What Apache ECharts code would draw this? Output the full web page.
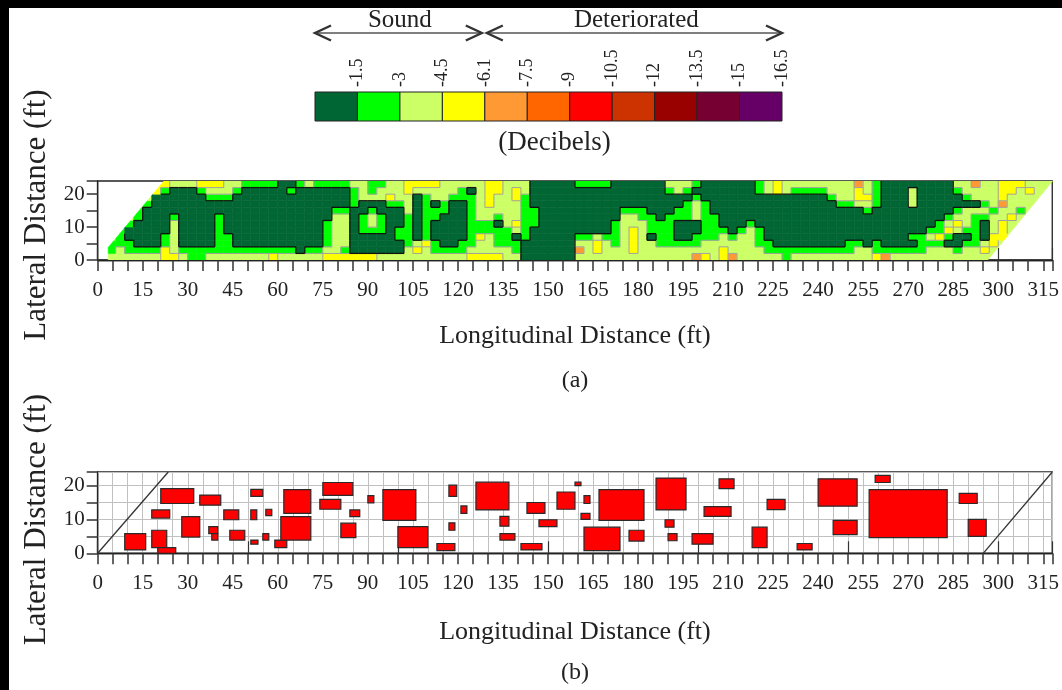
<!DOCTYPE html>
<html>
<head>
<meta charset="utf-8">
<title>Deck condition maps</title>
<script src="https://cdn.jsdelivr.net/npm/echarts@6/dist/echarts.min.js"></script>
<style>
  html, body { margin: 0; padding: 0; background: #fff; }
  #chart { width: 1062px; height: 690px; }
</style>
</head>
<body>
<div id="chart"></div>
<script>
const serif = "'Liberation Serif', 'DejaVu Serif', serif";

// decibel classes of the scale, sound -> deteriorated
const dbLabels = ['-1.5', '-3', '-4.5', '-6.1', '-7.5', '-9', '-10.5', '-12', '-13.5', '-15', '-16.5'];
const dbColors = ['#006633', '#00ff00', '#ccff66', '#ffff00', '#ff9933', '#ff6600',
  '#ff0000', '#cc3300', '#990000', '#770033', '#660066'];

// (a) class index (1 = -1.5 dB ...) per 3 ft x 2 ft cell, top row = 22-24 ft, bottom row = 0-2 ft
const cellW = 3, cellH = 2;
const dbRows = [
  '444444443334443322221123222' + '23322334444333334433311111' + '222211111133321111112343333' + '33335321111111133533444333',
  '444444421112333211111211111' + '12323334333332134434311111' + '111111111123211111112343222' + '23334321113111123333443433',
  '333333111111222111111111111' + '12333433123322234334211111' + '111111111111121111111111111' + '12334421113111112333433333',
  '333332111111111111111111111' + '12111223121211234333211111' + '111111111111232111111111111' + '11223321113111111123533333',
  '333321111111111111111111112' + '21121113122211233333221111' + '111112221112232111111111111' + '11111211111111123332332333',
  '333321112111121111111111113' + '31232112122111233233221111' + '111113322122232211111111111' + '11111111111111233223343333',
  '333211113111121111111111123' + '31232112121111222134221111' + '111123332221112211121111111' + '11111111111112343213433333',
  '332111113111121111111111123' + '31222122121111222223211111' + '111123432221112221232111111' + '11111111111122432213433333',
  '332111123111122111111111123' + '31111122121111243221211111' + '223223431221122232332111111' + '11111111112234211214433333',
  '322211123111122111111111123' + '31111112342112233222111111' + '334323433222223333332211111' + '11122121111222112234333333',
  '323222243222222222222212233' + '21111113432222333332111111' + '534333433333333343333222222' + '22223322222233323343333333',
  '333333344322333333343333344' + '44443333333333444433111111' + '333333333333354345333332333' + '33333345333333333333333333'
];

// (b) delaminated patches [x1, x2, y1, y2] in ft
const patches = [
  [9, 16, 1, 5.8], [18, 23, 1.7, 6.8], [20, 26, 0, 1.7], [18, 24, 10.4, 12.8],
  [21, 32, 14.7, 19.1], [28, 34, 4.8, 10.8], [34, 41, 14.2, 17.2], [37, 40, 5.8, 7.9],
  [38, 40, 3.9, 5.8], [42, 47, 9.9, 12.8], [44, 49, 3.9, 6.8], [51, 55, 16.8, 18.9],
  [51, 53, 9.9, 12.8], [51, 53.4, 2.7, 3.9], [55, 57, 3.9, 5.8], [56, 58, 11.1, 13],
  [59, 63, 1.7, 3.9], [61, 71, 3.9, 10.8], [62, 71, 11.8, 18.8], [75, 85, 17.1, 20.9],
  [74, 81, 13, 15.9], [81, 86, 4.6, 8.9], [84, 87.3, 10.8, 12.8], [90, 92, 14.9, 17],
  [95, 106, 9.7, 18.8], [100, 110, 1.7, 7.9], [113, 119, 0.8, 2.9], [117, 119.6, 16.8, 20.1],
  [121, 123, 11.8, 14], [117, 119, 6.8, 9], [126, 137, 12.8, 21], [134, 137, 8, 10.9],
  [134, 139, 3.9, 5.8], [141, 148, 1, 2.9], [143, 149, 11.8, 15], [147, 153, 7.9, 9.9],
  [153, 159, 13, 18.1], [159, 161, 20, 21], [162, 164, 14.7, 17], [161, 164, 10, 11.8],
  [162, 174, 0.8, 7.7], [167, 182, 9.7, 18.8], [177, 182, 3.6, 6.8], [186, 196, 12.8, 22.2],
  [189, 192, 7.7, 9.9], [190, 193, 3.7, 5.8], [198, 205, 2.7, 5.8], [202, 211, 10.9, 13.8],
  [207, 212, 19.1, 22], [218, 223, 1.7, 7.7], [223, 229, 12.9, 15.9], [233, 238, 1, 2.9],
  [240, 253, 13.9, 22], [245, 253, 5.5, 9.7], [259, 264, 20.9, 23], [257, 283, 4.6, 18.8],
  [287, 293, 14.7, 17.7], [290, 296, 5, 10]
];

// skewed deck ends drawn in (b)
const skewLeft = [[0, 0], [23.5, 24]];
const skewRight = [[295, 0], [318, 24]];

const xMax = 318, yMax = 24;

// deck outline of the scanned area in (a), each f(p) >= 0 inside
const deckEdges = [
  p => p[0] - 3.5,
  p => p[0] - 0.92 * p[1],
  p => 296.5 + 0.9 * p[1] - p[0]
];

function clipToDeck(poly) {
  deckEdges.forEach(f => {
    const out = [];
    for (let k = 0; k < poly.length; k++) {
      const a = poly[k], b = poly[(k + 1) % poly.length];
      const fa = f(a), fb = f(b);
      if (fa >= 0) out.push(a);
      if ((fa >= 0) !== (fb >= 0)) {
        const t = fa / (fa - fb);
        out.push([a[0] + t * (b[0] - a[0]), a[1] + t * (b[1] - a[1])]);
      }
    }
    poly = out;
  });
  return poly;
}
const inDeck = p => deckEdges.every(f => f(p) >= -1e-6);

const nRows = dbRows.length;
const codeAt = (i, j) => {
  const row = dbRows[nRows - 1 - j];
  return row && i < row.length ? +row[i] : null;
};

const cellData = [];
for (let j = 0; j < nRows; j++) {
  const row = dbRows[nRows - 1 - j];
  for (let i = 0; i < row.length; i++) cellData.push([i * cellW, j * cellH, +row[i], i, j]);
}

function renderCell(params, api) {
  const x0 = api.value(0), y0 = api.value(1), code = api.value(2);
  const i = api.value(3), j = api.value(4);
  const poly = clipToDeck([[x0, y0], [x0 + cellW, y0], [x0 + cellW, y0 + cellH], [x0, y0 + cellH]]);
  if (poly.length < 3) return null;
  const color = dbColors[code - 1];
  const children = [{
    type: 'polygon',
    shape: { points: poly.map(p => api.coord(p)) },
    style: { fill: color, stroke: color, lineWidth: 0.6 }
  }];
  // contour-like borders between classes
  const edges = [
    [codeAt(i + 1, j), [x0 + cellW, y0], [x0 + cellW, y0 + cellH]],
    [codeAt(i, j + 1), [x0, y0 + cellH], [x0 + cellW, y0 + cellH]]
  ];
  edges.forEach(([other, a, b]) => {
    if (other == null || other === code || !inDeck(a) || !inDeck(b)) return;
    const dark = code === 1 || other === 1;
    const pa = api.coord(a), pb = api.coord(b);
    children.push({
      type: 'line',
      shape: { x1: pa[0], y1: pa[1], x2: pb[0], y2: pb[1] },
      style: { stroke: dark ? '#111' : '#a0a0a0', lineWidth: dark ? 1.3 : 1 },
      z2: dark ? 3 : 2
    });
  });
  return { type: 'group', children: children };
}

function renderPatch(params, api) {
  const p1 = api.coord([api.value(0), api.value(3)]);
  const p2 = api.coord([api.value(1), api.value(2)]);
  return {
    type: 'rect',
    shape: { x: p1[0], y: p1[1], width: p2[0] - p1[0], height: p2[1] - p1[1] },
    style: { fill: '#ff0000', stroke: '#2a2a2a', lineWidth: 1.2 }
  };
}

function renderLegendCell(params, api) {
  const p1 = api.coord([api.value(0), 1]);
  const p2 = api.coord([api.value(1), 0]);
  return {
    type: 'rect',
    shape: { x: p1[0], y: p1[1], width: p2[0] - p1[0], height: p2[1] - p1[1] },
    style: { fill: dbColors[api.value(2)], stroke: '#222', lineWidth: 1 }
  };
}

const tickText = { fontFamily: serif, fontSize: 21, color: '#222' };

function bottomAxis(gridIndex, withSplit, gap) {
  return {
    type: 'value', gridIndex: gridIndex, min: 0, max: xMax, interval: 5,
    name: 'Longitudinal Distance (ft)', nameLocation: 'middle', nameGap: gap,
    nameTextStyle: { fontFamily: serif, fontSize: 26, color: '#222' },
    axisLine: { onZero: false, lineStyle: { color: '#222', width: 1.3 } },
    axisTick: { length: 11, lineStyle: { color: '#333', width: 1.5 } },
    axisLabel: Object.assign({ margin: 20, formatter: v => (v % 15 === 0 ? String(v) : '') }, tickText),
    splitLine: { show: withSplit, lineStyle: { color: '#c0c0c0', width: 1 } }
  };
}

function topAxis(gridIndex) {
  return {
    type: 'value', gridIndex: gridIndex, position: 'top', min: 0, max: xMax, interval: 50,
    axisLine: { lineStyle: { color: '#222', width: 1.3 } },
    axisTick: { length: 12, lineStyle: { color: '#333', width: 1.2 } },
    axisLabel: { show: false }, splitLine: { show: false }
  };
}

function leftAxis(gridIndex, withSplit, pad) {
  return {
    type: 'value', gridIndex: gridIndex, min: 0, max: yMax, interval: 5,
    name: 'Lateral Distance (ft)', nameLocation: 'middle', nameGap: 45,
    nameTextStyle: { fontFamily: serif, fontSize: 31, color: '#222', padding: pad },
    axisLine: { onZero: false, lineStyle: { color: '#222', width: 1.3 } },
    axisTick: { length: 11, lineStyle: { color: '#333', width: 1.5 } },
    axisLabel: Object.assign({ margin: 13, formatter: v => (v % 10 === 0 ? String(v) : '') }, tickText),
    splitLine: { show: withSplit, lineStyle: { color: '#c0c0c0', width: 1 } }
  };
}

const chart = echarts.init(document.getElementById('chart'));

chart.setOption({
  animation: false,
  backgroundColor: '#fff',
  grid: [
    { left: 97.7, right: 2, top: 181, height: 79, show: true, borderColor: '#222', borderWidth: 1.3 },
    { left: 97.7, right: 2, top: 472, height: 81.3, show: true, borderColor: '#222', borderWidth: 1.3 },
    { left: 315, top: 92, width: 467, height: 29 }
  ],
  xAxis: [
    bottomAxis(0, false, 63),
    bottomAxis(1, true, 66),
    topAxis(0),
    topAxis(1),
    {
      type: 'value', gridIndex: 2, position: 'top', min: 0, max: dbLabels.length, interval: 1,
      axisLine: { show: false }, axisTick: { show: false }, splitLine: { show: false },
      axisLabel: {
        rotate: 90, margin: 5, fontFamily: serif, fontSize: 18, color: '#222',
        formatter: v => (v > 0 ? dbLabels[v - 1] : '')
      }
    }
  ],
  yAxis: [
    leftAxis(0, false, [0, 0, 0, 11]),
    leftAxis(1, true, [0, 14, 0, 0]),
    { type: 'value', gridIndex: 2, min: 0, max: 1, show: false }
  ],
  series: [
    {
      type: 'custom', xAxisIndex: 0, yAxisIndex: 0, renderItem: renderCell,
      data: cellData, clip: true, silent: true
    },
    {
      type: 'custom', xAxisIndex: 1, yAxisIndex: 1, renderItem: renderPatch,
      data: patches, clip: true, silent: true, z: 3
    },
    {
      type: 'line', xAxisIndex: 1, yAxisIndex: 1, data: skewLeft, symbol: 'none',
      lineStyle: { color: '#333', width: 1.3 }, silent: true, z: 4
    },
    {
      type: 'line', xAxisIndex: 1, yAxisIndex: 1, data: skewRight, symbol: 'none',
      lineStyle: { color: '#333', width: 1.3 }, silent: true, z: 4
    },
    {
      type: 'custom', xAxisIndex: 4, yAxisIndex: 2, renderItem: renderLegendCell,
      data: dbColors.map((c, k) => [k, k + 1, k]), silent: true
    }
  ]
});

// arrows and captions placed from the legend scale
const lx = v => chart.convertToPixel({ xAxisIndex: 4 }, v);
const barTop = chart.convertToPixel({ yAxisIndex: 2 }, 1);
const barBottom = chart.convertToPixel({ yAxisIndex: 2 }, 0);
const arrowY = barTop - 59;

function arrow(xa, xb) {
  const h = 16, w = 7.5, st = { stroke: '#333', lineWidth: 2.4, fill: null };
  return [
    { type: 'line', shape: { x1: xa, y1: arrowY, x2: xb, y2: arrowY }, style: { stroke: '#555', lineWidth: 1.6 } },
    { type: 'polyline', shape: { points: [[xa + h, arrowY - w], [xa, arrowY], [xa + h, arrowY + w]] }, style: st },
    { type: 'polyline', shape: { points: [[xb - h, arrowY - w], [xb, arrowY], [xb - h, arrowY + w]] }, style: st }
  ];
}

function caption(text, x, y, size) {
  return {
    type: 'text', x: x, y: y,
    style: { text: text, fontFamily: serif, fontSize: size, fill: '#222', align: 'center', verticalAlign: 'middle' }
  };
}

const split = 4;
chart.setOption({
  graphic: [
    { type: 'rect', shape: { x: 0, y: 0, width: 1062, height: 8 }, style: { fill: '#000' } },
    { type: 'rect', shape: { x: 0, y: 0, width: 9, height: 690 }, style: { fill: '#000' } }
  ].concat(
    arrow(lx(0), lx(split) - 3),
    arrow(lx(split) + 2, lx(dbLabels.length)),
    [
      caption('Sound', (lx(0) + lx(split)) / 2, arrowY - 13, 25),
      caption('Deteriorated', (lx(split) + lx(dbLabels.length)) / 2 + 3, arrowY - 13, 25),
      caption('(Decibels)', (lx(0) + lx(dbLabels.length)) / 2 + 6, barBottom + 22, 27),
      caption('(a)', 575, 381, 24),
      caption('(b)', 575, 673, 24)
    ]
  )
});
</script>
</body>
</html>
